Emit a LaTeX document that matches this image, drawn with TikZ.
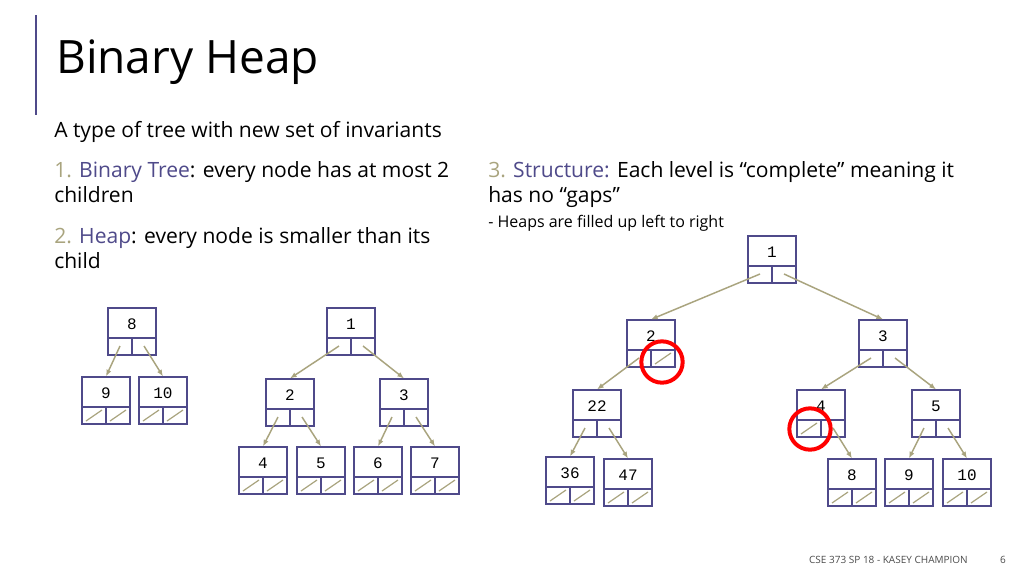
\documentclass[tikz,border=0pt]{standalone}
\usepackage{fontspec}
\setmainfont{Open Sans}
\setmonofont{Liberation Mono}
\begin{document}
\begin{tikzpicture}[x=0.75pt,y=-0.75pt,
  box/.style={draw=purp,line width=0.9pt,minimum width=36pt,minimum height=35.25pt,inner sep=0pt},
  arr/.style={draw=olive2,line width=1.1pt,-{Latex[length=5pt,width=4pt]}},
  nul/.style={draw=olive2,line width=0.9pt},
  txt/.style={anchor=north west,inner sep=0pt,align=left,font=\fontsize{15.8}{19}\selectfont},
  ring/.style={draw=red,line width=3pt,circle,minimum size=31pt,inner sep=0pt}]
\usetikzlibrary{arrows.meta}
\definecolor{purp}{HTML}{4F4A8A}
\definecolor{olive2}{HTML}{A9A47E}
\useasboundingbox (0,0) rectangle (1024,576);
\fill[white] (0,0) rectangle (1024,576);
\newcommand\hn[6]{%
  \node[box] (#1) at ({#2+24},{#3+23.5}) {};
  \draw[purp,line width=0.9pt] ({#2},{#3+30}) -- ({#2+48},{#3+30});
  \draw[purp,line width=0.9pt] ({#2+24},{#3+30}) -- ({#2+24},{#3+47});
  \node[font=\ttfamily\fontsize{12}{12}\selectfont,inner sep=0pt] (#1-t) at ({#2+24},{#3+16}) {#4};
  \coordinate (#1-l) at ({#2+12},{#3+38});
  \coordinate (#1-r) at ({#2+36},{#3+38});
  \ifnum#5=1 \draw[nul] ({#2+4},{#3+44}) -- ({#2+20},{#3+33});\fi
  \ifnum#6=1 \draw[nul] ({#2+28},{#3+44}) -- ({#2+44},{#3+33});\fi
}
\draw[purp,line width=1.2pt] (36,15) -- (36,115);
\node[anchor=west,inner sep=0pt,font=\fontsize{34.5}{38}\selectfont] (title) at (56,62) {Binary Heap};
\node[txt] (t0) at (54,121) {A type of tree with new set of invariants};
\node[txt] (t1) at (54,161) {\textcolor{olive2}{1.} \textcolor{purp}{Binary Tree}: every node has at most 2\\children};
\node[txt] (t2) at (54,227) {\textcolor{olive2}{2.} \textcolor{purp}{Heap}: every node is smaller than its\\child};
\node[txt] (t3) at (488,161) {\textcolor{olive2}{3.} \textcolor{purp}{Structure:} Each level is “complete” meaning it\\has no “gaps”};
\node[txt,font=\fontsize{12}{14}\selectfont] (t4) at (488,215) {- Heaps are filled up left to right};
\node[anchor=east,inner sep=0pt,font=\fontsize{7.5}{9}\selectfont,text=black!70] (foot) at (968,560) {CSE 373 SP 18 - KASEY CHAMPION};
\node[anchor=east,inner sep=0pt,font=\fontsize{7.5}{9}\selectfont,text=black!70] (pg) at (1006,560) {6};
% tree A
\hn{a8}{108}{308}{8}{0}{0}
\hn{a9}{82}{377}{9}{1}{1}
\hn{a10}{139}{377}{10}{1}{1}
\draw[arr] (a8-l) -- (a9.north); \draw[arr] (a8-r) -- (a10.north);
% tree B
\hn{b1}{327}{308}{1}{0}{0}
\hn{b2}{266}{379}{2}{0}{0}
\hn{b3}{380}{379}{3}{0}{0}
\hn{b4}{239}{447}{4}{1}{1}
\hn{b5}{297}{447}{5}{1}{1}
\hn{b6}{354}{447}{6}{1}{1}
\hn{b7}{411}{447}{7}{1}{1}
\draw[arr] (b1-l) -- (b2.north); \draw[arr] (b1-r) -- (b3.north);
\draw[arr] (b2-l) -- (b4.north); \draw[arr] (b2-r) -- (b5.north);
\draw[arr] (b3-l) -- (b6.north); \draw[arr] (b3-r) -- (b7.north);
% tree C
\hn{c1}{748}{236}{1}{0}{0}
\hn{c2}{627}{320}{2}{0}{1}
\hn{c3}{859}{320}{3}{0}{0}
\hn{c22}{573}{390}{22}{0}{0}
\hn{c4}{797}{390}{4}{1}{0}
\hn{c5}{912}{390}{5}{0}{0}
\hn{c36}{546}{457}{36}{1}{1}
\hn{c47}{604}{459}{47}{1}{1}
\hn{c8}{828}{459}{8}{1}{1}
\hn{c9}{885}{459}{9}{1}{1}
\hn{c10}{943}{459}{10}{1}{1}
\draw[arr] (c1-l) -- (c2.north); \draw[arr] (c1-r) -- (c3.north);
\draw[arr] (c2-l) -- (c22.north);
\draw[arr] (c3-l) -- (c4.north); \draw[arr] (c3-r) -- (c5.north);
\draw[arr] (c22-l) -- (c36.north); \draw[arr] (c22-r) -- (c47.north);
\draw[arr] (c4-r) -- (c8.north);
\draw[arr] (c5-l) -- (c9.north); \draw[arr] (c5-r) -- (c10.north);
\node[ring] (r1) at (662,362) {};
\node[ring] (r2) at (810,429) {};
\end{tikzpicture}
\end{document}
